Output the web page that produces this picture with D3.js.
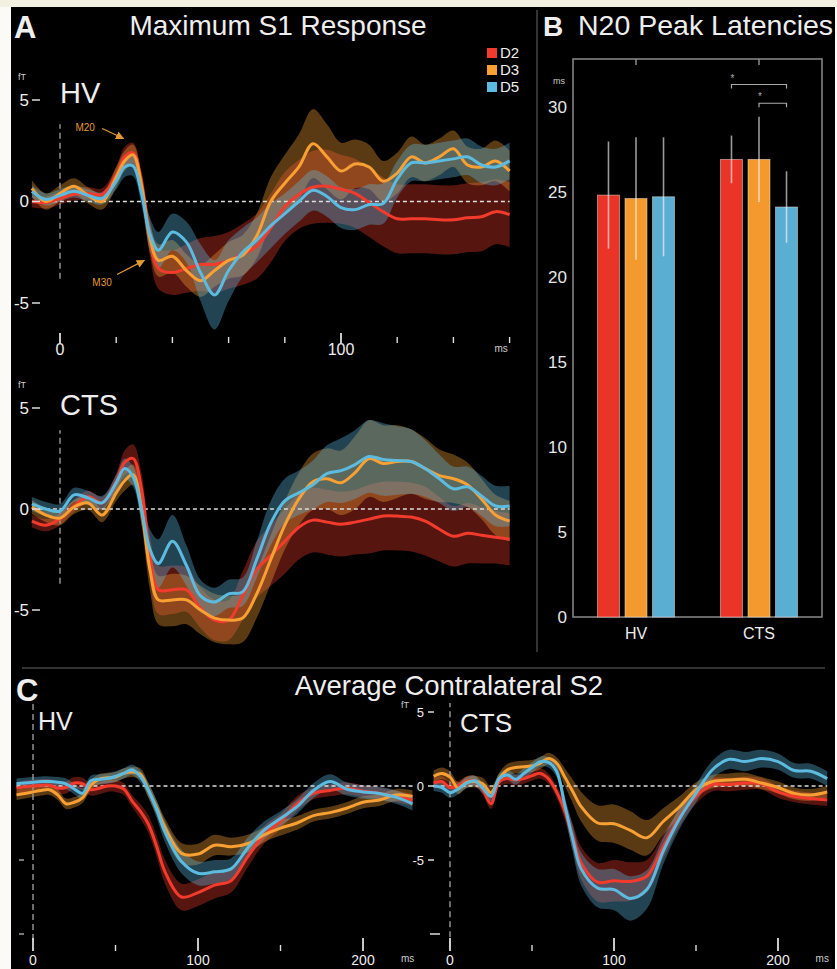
<!DOCTYPE html>
<html>
<head>
<meta charset="utf-8">
<title>S1 and S2 responses</title>
<script src="https://cdnjs.cloudflare.com/ajax/libs/d3/7.8.5/d3.min.js"></script>
<style>
  body { margin: 0; background: #fbfaf6; }
  svg { display: block; }
  text { font-family: "Liberation Sans", Arial, sans-serif; }
</style>
</head>
<body>
<svg width="837" height="969" fill="#eeeeee"></svg>
<script>
// ---------- data ----------
var digits = ["D2", "D3", "D5"];
var groups = ["HV", "CTS"];

// S1 waveforms (ms, fT), mean and sd per digit
var timesS1 = [-10,-5,0,5,10,15,20,23,26,29,32,35,40,45,50,55,60,65,70,75,80,85,90,95,100,105,110,115,120,125,130,135,140,145,150,155,160];

var s1HvD2   = [0.0,-0.05,0.15,0.35,0.4,0.35,1.3,2.2,2.4,0.9,-1.8,-3.3,-3.5,-3.3,-3.1,-3.1,-2.9,-2.6,-2.2,-1.3,-0.25,0.35,0.7,0.75,0.6,0.4,-0.05,-0.5,-0.85,-0.85,-0.85,-0.9,-0.9,-0.8,-0.75,-0.5,-0.65];
var s1HvD2sd = [0.3,0.3,0.3,0.3,0.3,0.3,0.4,0.5,0.5,0.6,0.9,1.0,1.1,1.2,1.3,1.4,1.4,1.5,1.6,1.7,1.7,1.7,1.8,1.8,1.7,1.7,1.7,1.7,1.7,1.7,1.7,1.7,1.7,1.7,1.7,1.6,1.6];
var s1HvD3   = [0.65,0.0,0.4,0.75,0.3,0.0,1.2,2.0,2.3,0.8,-1.8,-2.9,-2.7,-3.4,-3.9,-3.4,-2.9,-2.65,-1.7,0.0,0.9,1.7,2.85,2.2,1.5,1.85,1.7,1.0,1.4,2.2,1.9,2.2,2.6,1.8,1.7,2.0,1.5];
var s1HvD3sd = [0.4,0.4,0.4,0.4,0.4,0.4,0.5,0.5,0.5,0.6,0.7,0.8,0.8,0.8,0.8,0.8,0.9,1.0,1.1,1.2,1.4,1.6,1.7,1.6,1.4,1.2,1.1,1.0,1.0,1.0,0.9,0.9,0.9,0.9,0.9,1.0,1.0];
var s1HvD5   = [0.5,0.1,0.3,0.5,0.3,0.15,1.0,1.7,1.75,0.4,-1.6,-2.4,-1.5,-2.0,-3.5,-4.6,-3.4,-2.5,-1.9,-1.2,-0.6,0.0,0.55,0.25,-0.3,-0.4,-0.15,-0.1,1.1,1.9,1.9,2.0,2.1,2.2,1.8,1.7,2.0];
var s1HvD5sd = [0.3,0.3,0.3,0.3,0.3,0.3,0.4,0.5,0.5,0.6,0.8,0.9,0.9,1.0,1.4,1.7,1.5,1.2,1.1,1.1,1.0,1.0,1.0,1.0,1.0,1.0,1.0,1.0,0.9,0.9,0.9,0.9,0.9,0.9,0.9,0.9,0.9];

var s1CtsD2   = [-0.6,-0.8,-0.5,0.15,0.6,0.3,1.35,2.3,2.5,1.0,-2.35,-4.0,-4.0,-4.0,-4.9,-5.5,-5.5,-4.3,-3.0,-2.3,-1.6,-0.9,-0.55,-0.65,-0.75,-0.65,-0.5,-0.35,-0.35,-0.4,-0.6,-1.0,-1.35,-1.2,-1.3,-1.4,-1.5];
var s1CtsD2sd = [0.3,0.3,0.3,0.3,0.3,0.3,0.4,0.6,0.7,0.8,1.0,1.2,1.2,1.1,1.0,1.0,1.0,1.2,1.4,1.5,1.6,1.6,1.6,1.6,1.6,1.6,1.7,1.7,1.7,1.7,1.7,1.6,1.5,1.5,1.4,1.3,1.3];
var s1CtsD3   = [0.1,-0.3,-0.45,0.1,0.3,-0.3,0.8,1.4,1.7,0.0,-3.0,-4.5,-4.5,-4.5,-5.0,-5.4,-5.5,-5.4,-4.2,-2.5,-0.8,0.5,1.35,1.5,1.3,1.8,2.5,2.25,2.35,2.35,2.0,1.65,1.5,1.2,0.5,-0.3,-0.6];
var s1CtsD3sd = [0.35,0.35,0.35,0.35,0.35,0.35,0.4,0.5,0.5,0.8,1.0,1.2,1.3,1.2,1.2,1.2,1.2,1.2,1.2,1.2,1.2,1.3,1.4,1.5,1.6,1.8,1.9,1.9,1.8,1.6,1.5,1.3,1.2,1.1,1.0,1.0,1.0];
var s1CtsD5   = [0.25,0.0,-0.1,0.7,0.55,0.3,1.3,2.0,1.6,0.0,-2.0,-2.7,-1.6,-2.8,-4.3,-4.6,-4.2,-4.1,-2.5,-0.7,0.4,0.8,1.2,1.75,1.9,2.2,2.6,2.45,2.4,2.35,2.0,1.5,1.0,1.1,0.65,0.15,0.15];
var s1CtsD5sd = [0.35,0.35,0.35,0.35,0.35,0.35,0.4,0.5,0.5,0.7,1.0,1.2,1.3,1.0,0.8,0.7,0.7,0.7,0.9,1.1,1.1,1.1,1.2,1.4,1.6,1.7,1.8,1.8,1.7,1.6,1.4,1.2,1.1,1.0,1.0,1.0,1.0];

// S2 waveforms
var timesS2 = [-10,-5,0,5,10,15,20,25,30,35,40,45,50,55,60,65,70,75,80,90,100,110,120,130,140,150,160,170,180,190,200,210,220,230];

var s2HvD2   = [-0.15,-0.05,0.0,0.05,0.05,-0.15,-0.1,0.2,0.15,-0.25,-0.15,0.0,0.0,-0.2,-1.0,-1.7,-2.6,-4.1,-5.8,-7.5,-7.2,-6.7,-6.4,-4.8,-3.3,-2.4,-1.2,-0.5,-0.3,-0.15,-0.35,-0.5,-0.7,-0.95];
var s2HvD2sd = [0.4,0.4,0.4,0.4,0.4,0.4,0.4,0.4,0.4,0.4,0.4,0.4,0.4,0.4,0.4,0.5,0.6,0.7,0.8,0.9,0.9,0.9,0.8,0.7,0.6,0.5,0.5,0.4,0.4,0.4,0.4,0.4,0.4,0.4];
var s2HvD3   = [-0.6,-0.5,-0.4,-0.3,-0.25,-0.6,-1.2,-1.1,-0.8,0.05,0.45,0.55,0.6,0.85,0.95,0.8,-0.3,-1.5,-2.8,-4.55,-4.6,-4.0,-4.1,-3.9,-3.3,-2.85,-2.5,-2.0,-1.8,-1.5,-1.1,-0.95,-0.6,-0.7];
var s2HvD3sd = [0.35,0.35,0.35,0.35,0.35,0.35,0.35,0.35,0.35,0.35,0.35,0.35,0.35,0.35,0.35,0.4,0.5,0.5,0.6,0.7,0.7,0.7,0.6,0.6,0.5,0.5,0.45,0.4,0.4,0.4,0.4,0.4,0.4,0.4];
var s2HvD5   = [0.15,0.2,0.25,0.3,0.3,0.25,0.15,-0.2,-0.5,0.35,0.45,0.5,0.65,0.85,1.1,0.65,-0.3,-1.6,-3.1,-5.1,-5.9,-5.8,-5.6,-4.2,-3.0,-2.2,-1.4,-0.3,0.3,-0.2,-0.4,-0.5,-0.75,-1.2];
var s2HvD5sd = [0.35,0.35,0.35,0.35,0.35,0.35,0.35,0.35,0.35,0.35,0.35,0.35,0.35,0.35,0.35,0.4,0.5,0.6,0.7,0.8,0.8,0.8,0.7,0.7,0.6,0.5,0.5,0.5,0.5,0.45,0.45,0.45,0.45,0.45];

var s2CtsD2   = [0.2,0.3,-0.1,0.0,0.3,0.35,-0.25,-1.2,0.3,0.5,0.4,0.5,0.7,0.85,0.5,-0.4,-1.7,-3.5,-5.2,-6.5,-6.4,-6.45,-6.1,-4.1,-2.1,-0.7,0.1,0.1,0.2,0.15,-0.4,-0.7,-0.85,-0.95];
var s2CtsD2sd = [0.35,0.35,0.35,0.35,0.35,0.35,0.35,0.35,0.35,0.35,0.35,0.35,0.35,0.35,0.35,0.4,0.6,0.9,1.1,1.3,1.4,1.3,1.1,0.8,0.6,0.5,0.45,0.45,0.45,0.4,0.4,0.4,0.4,0.4];
var s2CtsD3   = [0.65,0.85,0.6,-0.15,0.25,0.3,0.15,-0.45,0.5,1.1,1.25,1.3,1.35,1.55,1.85,1.55,0.6,-0.4,-1.4,-2.5,-2.55,-3.0,-3.5,-2.4,-1.4,-0.25,0.3,0.4,0.45,0.2,-0.1,-0.5,-0.6,-0.4];
var s2CtsD3sd = [0.4,0.4,0.4,0.4,0.4,0.4,0.4,0.4,0.4,0.4,0.4,0.4,0.4,0.4,0.4,0.4,0.6,0.8,1.0,1.2,1.3,1.3,1.2,0.9,0.7,0.5,0.45,0.45,0.45,0.4,0.4,0.4,0.4,0.4];
var s2CtsD5   = [0.0,-0.1,-0.45,-0.2,0.2,0.35,-0.15,-0.7,0.5,0.75,0.45,0.85,1.25,1.65,1.6,1.0,-1.3,-3.65,-5.6,-6.9,-7.0,-7.6,-7.0,-4.4,-2.2,-0.5,1.1,1.8,1.65,1.85,1.65,1.05,1.0,0.5];
var s2CtsD5sd = [0.35,0.35,0.35,0.35,0.35,0.35,0.35,0.35,0.35,0.35,0.35,0.35,0.35,0.35,0.35,0.4,0.6,0.9,1.1,1.3,1.4,1.5,1.3,0.9,0.7,0.6,0.6,0.65,0.65,0.6,0.55,0.5,0.5,0.5];

// N20 peak latencies (ms)
var latHv     = [24.8, 24.6, 24.7];
var latHvSd   = [3.15, 3.6, 3.5];
var latCts    = [26.9, 26.9, 24.1];
var latCtsSd  = [1.4, 2.5, 2.1];
var latTicks  = [0, 5, 10, 15, 20, 25, 30];
var sigPairs  = [["D2", "D5", 31.3], ["D3", "D5", 30.2]];

var s1Ticks = [0, 20, 40, 60, 80, 100, 120, 140, 160];
var s1Major = [0, 100];
var s2Ticks = [0, 50, 100, 150, 200];
var s2Major = [0, 100, 200];

var colors = { D2: "#f23b2c", D3: "#f8a034", D5: "#5dbbe0" };
var barColors = { D2: "#ea3428", D3: "#f3992e", D5: "#5aaed2" };

// ---------- drawing ----------
var svg = d3.select("svg");

svg.append("rect").attr("x", 0).attr("y", 0).attr("width", 837).attr("height", 7).attr("fill", "#f3efe1");
svg.append("rect").attr("x", 11).attr("y", 7).attr("width", 824).attr("height", 962).attr("fill", "#000");

var defs = svg.append("defs");
defs.append("marker").attr("id", "arr").attr("viewBox", "0 0 10 10")
    .attr("refX", 9).attr("refY", 5).attr("markerWidth", 7).attr("markerHeight", 7)
    .attr("orient", "auto")
  .append("path").attr("d", "M0,0 L10,5 L0,10 z").attr("fill", "#e49a33");

function wavePanel(o) {
  var x = d3.scaleLinear().domain([0, 100]).range(o.xRange);
  var y = d3.scaleLinear().domain(o.yDomain).range(o.yRange);
  var g = svg.append("g");
  var rows = function(m, sd) {
    return o.times.map(function(t, i) { return { t: t, m: m[i], sd: sd[i] }; });
  };
  var band = d3.area().curve(d3.curveCatmullRom)
      .x(function(d) { return x(d.t); })
      .y0(function(d) { return y(d.m - d.sd); })
      .y1(function(d) { return y(d.m + d.sd); });
  var trace = d3.line().curve(d3.curveCatmullRom)
      .x(function(d) { return x(d.t); })
      .y(function(d) { return y(d.m); });

  o.series.forEach(function(s) {
    g.append("path").attr("d", band(rows(s.mean, s.sd)))
      .attr("fill", colors[s.key]).attr("fill-opacity", 0.36);
  });

  // onset (dashed) and baseline (dotted)
  g.append("line")
    .attr("x1", x(0)).attr("x2", x(0))
    .attr("y1", y(o.onset[0])).attr("y2", y(o.onset[1]))
    .attr("stroke", "#9a9a9a").attr("stroke-width", 1.4).attr("stroke-dasharray", "6,4");
  g.append("line")
    .attr("x1", x(o.times[0])).attr("x2", x(o.times[o.times.length - 1]))
    .attr("y1", y(0)).attr("y2", y(0))
    .attr("stroke", "#ddd").attr("stroke-width", 1.3).attr("stroke-dasharray", "4,3");

  o.series.forEach(function(s) {
    g.append("path").attr("d", trace(rows(s.mean, s.sd)))
      .attr("fill", "none").attr("stroke", colors[s.key])
      .attr("stroke-width", 3).attr("stroke-linejoin", "round");
  });
  return { g: g, x: x, y: y };
}

function yLabels(p, vals, labelX, dashX, size) {
  vals.forEach(function(v) {
    p.g.append("text").attr("x", labelX).attr("y", p.y(v)).attr("dy", "0.35em")
      .attr("text-anchor", "end").attr("font-size", size).text(v);
    p.g.append("line").attr("x1", dashX[0]).attr("x2", dashX[1])
      .attr("y1", p.y(v)).attr("y2", p.y(v)).attr("stroke", "#ddd").attr("stroke-width", 1.5);
  });
}

function timeAxis(p, ticks, majors, bottom, lenMajor, lenMinor, labelY, unitT, size) {
  ticks.forEach(function(t) {
    var major = majors.indexOf(t) >= 0;
    p.g.append("line").attr("x1", p.x(t)).attr("x2", p.x(t))
      .attr("y1", bottom - (major ? lenMajor : lenMinor)).attr("y2", bottom)
      .attr("stroke", "#ddd").attr("stroke-width", major ? 1.8 : 1.4);
    if (major) {
      p.g.append("text").attr("x", p.x(t)).attr("y", labelY)
        .attr("text-anchor", "middle").attr("font-size", size).text(t);
    }
  });
  p.g.append("text").attr("x", p.x(unitT)).attr("y", labelY - 3)
    .attr("text-anchor", "middle").attr("font-size", 10).attr("fill", "#ccc").text("ms");
}

function seriesOf(a, b, c, asd, bsd, csd) {
  return [
    { key: "D2", mean: a, sd: asd },
    { key: "D3", mean: b, sd: bsd },
    { key: "D5", mean: c, sd: csd }
  ];
}

// ---- Panel A ----
svg.append("text").attr("x", 14).attr("y", 38).attr("font-size", 31).attr("font-weight", "bold").text("A");
svg.append("text").attr("x", 278).attr("y", 35).attr("text-anchor", "middle").attr("font-size", 28).text("Maximum S1 Response");

var aHv = wavePanel({
  times: timesS1, xRange: [60, 341], yDomain: [-5, 5], yRange: [303, 100], onset: [-3.8, 3.8],
  series: seriesOf(s1HvD2, s1HvD3, s1HvD5, s1HvD2sd, s1HvD3sd, s1HvD5sd)
});
var aCts = wavePanel({
  times: timesS1, xRange: [60, 341], yDomain: [-5, 5], yRange: [610, 408], onset: [-3.7, 3.9],
  series: seriesOf(s1CtsD2, s1CtsD3, s1CtsD5, s1CtsD2sd, s1CtsD3sd, s1CtsD5sd)
});

[aHv, aCts].forEach(function(p, i) {
  yLabels(p, [5, 0, -5], 29, [32, 40], 17);
  p.g.append("text").attr("x", 18).attr("y", p.y(5) - 20).attr("font-size", 9).attr("fill", "#ccc").text("fT");
  p.g.append("text").attr("x", 60).attr("y", p.y(5) + (i ? 7 : 3)).attr("font-size", 29).text(groups[i]);
});
timeAxis(aHv, s1Ticks, s1Major, 343, 10, 6, 355, 157, 16);

// legend
digits.forEach(function(d, i) {
  svg.append("rect").attr("x", 487).attr("y", 48 + i * 17).attr("width", 10).attr("height", 10).attr("fill", colors[d]);
  svg.append("text").attr("x", 500).attr("y", 58 + i * 17).attr("font-size", 15).text(d);
});

// M20 / M30 annotations (data units of the HV panel)
var notes = [
  { label: "M20", at: [5.5, 3.65], from: [15, 3.6], to: [22.6, 3.1] },
  { label: "M30", at: [11.5, -4.0], from: [20.3, -3.6], to: [30.0, -2.9] }
];
notes.forEach(function(n) {
  aHv.g.append("text").attr("x", aHv.x(n.at[0])).attr("y", aHv.y(n.at[1])).attr("dy", "0.35em")
    .attr("font-size", 10).attr("fill", "#e49a33").text(n.label);
  aHv.g.append("line").attr("x1", aHv.x(n.from[0])).attr("y1", aHv.y(n.from[1]))
    .attr("x2", aHv.x(n.to[0])).attr("y2", aHv.y(n.to[1]))
    .attr("stroke", "#e49a33").attr("stroke-width", 1.2).attr("marker-end", "url(#arr)");
});

// separators
svg.append("line").attr("x1", 537).attr("x2", 537).attr("y1", 10).attr("y2", 652).attr("stroke", "#444").attr("stroke-width", 1.5);
svg.append("line").attr("x1", 22).attr("x2", 825).attr("y1", 668).attr("y2", 668).attr("stroke", "#444").attr("stroke-width", 1.5);

// ---- Panel B ----
svg.append("text").attr("x", 543).attr("y", 36).attr("font-size", 28).attr("font-weight", "bold").text("B");
svg.append("text").attr("x", 578).attr("y", 35).attr("font-size", 28.5).text("N20 Peak Latencies");

var yB = d3.scaleLinear().domain([0, 32.8]).range([617, 59]);
var xGroup = d3.scalePoint().domain(groups).range([636, 759]);
var xDigit = d3.scaleBand().domain(digits).range([-41, 41]).paddingInner(0.2).paddingOuter(0.09);
var gB = svg.append("g");

gB.append("rect").attr("x", 573).attr("y", yB(32.8)).attr("width", 249).attr("height", yB(0) - yB(32.8))
  .attr("fill", "none").attr("stroke", "#8a8a8a").attr("stroke-width", 1.5);

groups.forEach(function(gName) {
  gB.append("line").attr("x1", xGroup(gName)).attr("x2", xGroup(gName))
    .attr("y1", yB(32.8)).attr("y2", yB(32.8) + 6).attr("stroke", "#8a8a8a").attr("stroke-width", 1.5);
});

var barRows = [];
groups.forEach(function(gName, gi) {
  var vals = gi ? latCts : latHv, sds = gi ? latCtsSd : latHvSd;
  digits.forEach(function(d, i) { barRows.push({ group: gName, key: d, v: vals[i], sd: sds[i] }); });
});

gB.selectAll("rect.bar").data(barRows).join("rect").attr("class", "bar")
  .attr("x", function(d) { return xGroup(d.group) + xDigit(d.key); })
  .attr("y", function(d) { return yB(d.v); })
  .attr("width", xDigit.bandwidth())
  .attr("height", function(d) { return yB(0) - yB(d.v); })
  .attr("fill", function(d) { return barColors[d.key]; })
  .attr("stroke", "#f2e6dc").attr("stroke-opacity", 0.6).attr("stroke-width", 0.8);

gB.selectAll("line.err").data(barRows).join("line").attr("class", "err")
  .attr("x1", function(d) { return xGroup(d.group) + xDigit(d.key) + xDigit.bandwidth() / 2; })
  .attr("x2", function(d) { return xGroup(d.group) + xDigit(d.key) + xDigit.bandwidth() / 2; })
  .attr("y1", function(d) { return yB(d.v + d.sd); })
  .attr("y2", function(d) { return yB(d.v - d.sd); })
  .attr("stroke", "#fff").attr("stroke-opacity", 0.6).attr("stroke-width", 1.6);

sigPairs.forEach(function(s) {
  var cx = function(k) { return xGroup("CTS") + xDigit(k) + xDigit.bandwidth() / 2; };
  var x1 = cx(s[0]), x2 = cx(s[1]), yy = yB(s[2]);
  gB.append("path").attr("d", "M" + x1 + "," + (yy + 4) + "V" + yy + "H" + x2 + "V" + (yy + 4))
    .attr("fill", "none").attr("stroke", "#aaa").attr("stroke-width", 1.2);
  gB.append("text").attr("x", x1 + 1).attr("y", yy - 3).attr("text-anchor", "middle")
    .attr("font-size", 10).attr("fill", "#aaa").text("*");
});

var axB = gB.append("g").attr("transform", "translate(573,0)")
  .call(d3.axisLeft(yB).tickValues(latTicks).tickSize(0).tickPadding(6));
axB.select(".domain").remove();
axB.selectAll("text").attr("font-size", 17).attr("fill", "#e6e6e6")
  .style("font-family", '"Liberation Sans", Arial, sans-serif');
gB.append("text").attr("x", 559).attr("y", 84).attr("text-anchor", "middle").attr("font-size", 9).attr("fill", "#ccc").text("ms");

groups.forEach(function(gName) {
  gB.append("text").attr("x", xGroup(gName)).attr("y", 639).attr("text-anchor", "middle").attr("font-size", 16).text(gName);
});

// ---- Panel C ----
svg.append("text").attr("x", 16).attr("y", 701).attr("font-size", 31).attr("font-weight", "bold").text("C");
svg.append("text").attr("x", 449).attr("y", 695).attr("text-anchor", "middle").attr("font-size", 27.5).text("Average Contralateral S2");

var cHv = wavePanel({
  times: timesS2, xRange: [33, 198], yDomain: [-5, 0], yRange: [860, 786], onset: [-10.4, 5.8],
  series: seriesOf(s2HvD2, s2HvD3, s2HvD5, s2HvD2sd, s2HvD3sd, s2HvD5sd)
});
var cCts = wavePanel({
  times: timesS2, xRange: [450, 614], yDomain: [-5, 0], yRange: [860, 786], onset: [-10.9, 5.6],
  series: seriesOf(s2CtsD2, s2CtsD3, s2CtsD5, s2CtsD2sd, s2CtsD3sd, s2CtsD5sd)
});

[-5, -10].forEach(function(v) {
  cHv.g.append("line").attr("x1", 19).attr("x2", 24).attr("y1", cHv.y(v)).attr("y2", cHv.y(v))
    .attr("stroke", "#bbb").attr("stroke-width", 1.3);
});
yLabels(cCts, [5, 0, -5], 424, [428, 434], 13);
cCts.g.append("line").attr("x1", 430).attr("x2", 440).attr("y1", cCts.y(-10)).attr("y2", cCts.y(-10))
  .attr("stroke", "#ddd").attr("stroke-width", 1.5);
cCts.g.append("text").attr("x", 401).attr("y", 708).attr("font-size", 9).attr("fill", "#ccc").text("fT");

cHv.g.append("text").attr("x", 38).attr("y", 730).attr("font-size", 25).text("HV");
cCts.g.append("text").attr("x", 460).attr("y", 732).attr("font-size", 26).text("CTS");

timeAxis(cHv, s2Ticks, s2Major, 951, 13, 6, 965, 227, 14);
timeAxis(cCts, s2Ticks, s2Major, 951, 13, 6, 965, 227, 14);
</script>
</body>
</html>
